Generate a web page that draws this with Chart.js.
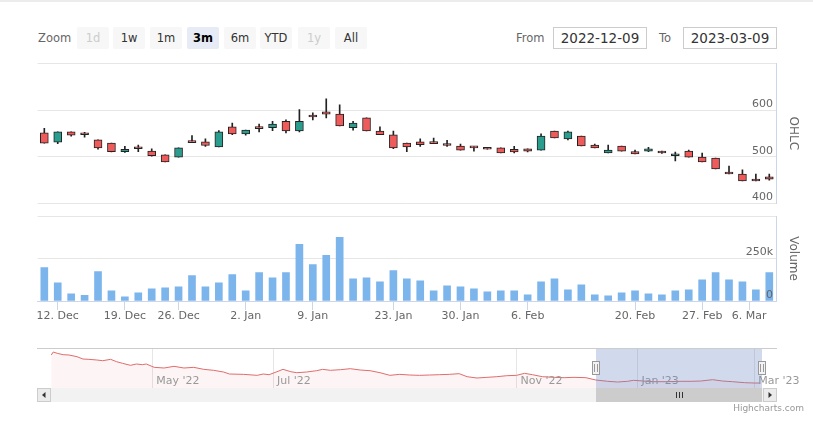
<!DOCTYPE html>
<html>
<head>
<meta charset="utf-8">
<script src="https://cdn.jsdelivr.net/npm/chart.js@4.4.1/dist/chart.umd.min.js"></script>
<style>
  body { margin: 0; background: #fff; font-family: 'DejaVu Sans', sans-serif; }
  #wrap { position: relative; width: 813px; height: 423px; overflow: hidden; }
  #wrap canvas { position: absolute; left: 0; top: 0; }
  #topline { position: absolute; left: 0; top: 0; width: 813px; height: 2px; background: #ececec; }
  .lbl { position: absolute; top: 27px; line-height: 22px; font-size: 11.5px; color: #666; }
  .btn { position: absolute; top: 27px; width: 32px; height: 22px; line-height: 22px; text-align: center;
         background: #f7f7f7; color: #333; font-size: 11.5px; border-radius: 2px; }
  .btn.off { color: #ccc; }
  .btn.on { background: #e6ebf5; color: #000; font-weight: bold; }
  .inp { position: absolute; top: 27px; width: 92px; height: 20px; line-height: 20px; border: 1px solid #ccc;
         text-align: center; font-size: 13.5px; color: #333; }
  #credit { position: absolute; right: 9px; top: 403px; font-size: 9px; color: #999; }
</style>
</head>
<body>
<div id="wrap">
  <div id="topline"></div>
  <div class="lbl" style="left:38px">Zoom</div>
  <div class="btn off" style="left:77px">1d</div>
  <div class="btn" style="left:113px">1w</div>
  <div class="btn" style="left:150px">1m</div>
  <div class="btn on" style="left:187px">3m</div>
  <div class="btn" style="left:224px">6m</div>
  <div class="btn" style="left:260px">YTD</div>
  <div class="btn off" style="left:298px">1y</div>
  <div class="btn" style="left:335px">All</div>
  <div class="lbl" style="left:516px">From</div>
  <div class="inp" style="left:553px">2022-12-09</div>
  <div class="lbl" style="left:659px">To</div>
  <div class="inp" style="left:683px">2023-03-09</div>
  <canvas id="price" width="813" height="423"></canvas>
  <canvas id="volume" width="813" height="423"></canvas>
  <canvas id="nav" width="813" height="423"></canvas>
  <div id="credit">Highcharts.com</div>
</div>
<script>
// x axis = trading day index inside the 3m window
const tickIdx = [1, 6, 10, 15, 20, 26, 31, 36, 44, 49, 52.5];
const tickLabels = ['12. Dec', '19. Dec', '26. Dec', '2. Jan', '9. Jan', '23. Jan', '30. Jan', '6. Feb', '20. Feb', '27. Feb', '6. Mar'];

const opens = [551,531,553,548,536,529,511,518,512,504, 499,531,532,521,564,549,561,562,576,555,
  586,596,591,562,583,555,547,529,532,529, 525,523,520,517,519,516,517,514,555,538,
  544,525,508,523,511,512,509,502,512,499, 497,464,463,449,457];
const highs = [561,553,553,552,536,529,522,525,517,504, 519,545,538,556,572,557,570,576,579,601,
  594,624,611,576,583,564,555,529,538,540, 535,527,522,520,519,522,517,549,555,555,
  544,527,525,523,514,520,512,510,514,508, 497,480,472,463,463];
const lows = [529,528,544,542,516,510,509,511,501,489, 499,530,522,521,547,546,553,556,551,553,
  579,583,566,557,555,547,517,511,522,528, 522,514,512,516,508,508,510,514,540,536,
  523,519,508,512,506,511,507,491,499,489, 474,463,448,448,450];
const closes = [529,553,546,547,519,511,516,517,502,489, 519,530,524,553,549,557,560,570,555,576,
  585,591,566,572,555,547,519,521,526,528, 524,514,519,516,508,510,512,544,540,553,
  523,519,514,512,506,517,508,506,499,489, 474,463,448,448,452];
const volumes = [196,107,42,34,173,60,24,48,71,77, 83,149,83,107,155,60,167,137,167,333,
  214,268,375,131,137,113,179,131,119,60, 89,83,71,54,60,60,36,113,131,65,
  95,36,30,48,60,42,36,60,65,125, 167,125,113,65,167].map(v => v * 1000);

// navigator: days from 1 May 2022, close
const navDays = [-51,-50,-48,-45,-42,-38,-35,-32,-28,-25, -21,-18,-15,-11,-8,-5,-3,1,6,11,
  16,21,26,31,36,39,46,53,56,59, 63,66,70,73,78,83,86,90,95,100,
  105,110,115,120,125,130,135,140,145,150, 155,159,164,169,174,179,184,188,192,197,
  203,208,213,219,224,230,235,240,243,248, 253,260,267,272,277,283,288,293,299,304, 307];
const navClose = [1327,1422,1381,1337,1327,1274,1201,1191,1170,1148, 1191,1116,1066,1002,1044,1023,1044,939,918,971,
  918,939,876,845,792,729,718,687,729,707, 801,876,801,770,792,833,876,845,865,896,
  855,833,770,687,718,697,687,697,707,718, 739,644,603,624,644,675,687,750,707,644,
  624,613,624,613,540,499,477,499,530,508, 487,487,499,499,508,550,508,487,456,445, 445];
const navTicks = [0, 61, 184, 245, 304];
const navTickLabels = ["May '22", "Jul '22", "Nov '22", "Jan '23", "Mar '23"];
const navRange = [224, 308];

const UP = '#2a9d8f', DOWN = '#ef5b5b', LINE = '#222';

Chart.defaults.font.family = "'DejaVu Sans', sans-serif";
Chart.defaults.font.size = 11;
Chart.defaults.color = '#666';
Chart.defaults.animation = false;
Chart.defaults.plugins.legend.display = false;
Chart.defaults.plugins.tooltip.enabled = false;

const idx = opens.map((o, i) => i);

// right hand y axis, labels inside the plot like the original
function rightAxis(min, max, step, title, fmt) {
  return {
    position: 'right', min: min, max: max,
    afterFit: s => { s.width = 37; },
    grid: { color: '#e6e6e6', drawTicks: false },
    border: { display: true, color: '#ccd6eb' },
    ticks: { mirror: true, z: 1, padding: -3, labelOffset: -6, stepSize: step, color: '#666', font: { size: 11 },
      callback: v => v === max ? '' : fmt(v) },
    title: { display: true, text: title, color: '#666', font: { size: 12 }, padding: { top: 13, bottom: 0 } }
  };
}

new Chart(document.getElementById('price'), {
  type: 'bar',
  data: {
    datasets: [{
      data: idx.map(i => ({ x: i, y: [opens[i], closes[i]] })),
      backgroundColor: idx.map(i => closes[i] >= opens[i] ? UP : DOWN),
      borderColor: LINE, borderWidth: 1, borderSkipped: false,
      barThickness: 8, minBarLength: 2, grouped: false
    }, {
      data: idx.map(i => ({ x: i, y: [lows[i], highs[i]] })),
      backgroundColor: LINE, barThickness: 1, grouped: false
    }]
  },
  options: {
    responsive: false,
    layout: { padding: { left: 37.6, top: 63.3, bottom: 219.6, right: 0 } },
    scales: {
      x: { type: 'linear', min: -0.5, max: 54.5, offset: false, display: false },
      y: rightAxis(400, 700, 100, 'OHLC', v => v)
    }
  }
});

new Chart(document.getElementById('volume'), {
  type: 'bar',
  data: {
    datasets: [{
      data: idx.map(i => ({ x: i, y: volumes[i] })),
      backgroundColor: '#7cb5ec', barThickness: 7, grouped: false
    }]
  },
  options: {
    responsive: false,
    layout: { padding: { left: 37.6, top: 216, bottom: 100, right: 0 } },
    scales: {
      x: {
        type: 'linear', min: -0.5, max: 54.5, offset: false,
        afterBuildTicks: s => { s.ticks = tickIdx.map(v => ({ value: v })); },
        afterFit: s => { s.height = 22; },
        grid: { offset: false, drawOnChartArea: false, drawTicks: true, tickLength: 9, tickColor: '#ccd6eb' },
        border: { color: '#ccd6eb' },
        ticks: { autoSkip: false, maxRotation: 0, padding: 0, color: '#666', font: { size: 11 },
          callback: (v, i) => tickLabels[i] }
      },
      y: rightAxis(0, 500000, 250000, 'Volume', v => v === 0 ? '0' : (v / 1000) + 'k')
    }
  }
});

// mask, handles, month labels and scrollbar of the navigator
const navParts = {
  id: 'navParts',
  afterDraw(chart) {
    const { ctx, chartArea: a, scales: { x } } = chart;
    const x1 = Math.round(x.getPixelForValue(navRange[0]));
    const x2 = Math.round(x.getPixelForValue(navRange[1]));
    ctx.save();
    ctx.font = "11px 'DejaVu Sans', sans-serif";
    ctx.fillStyle = '#999';
    ctx.textBaseline = 'middle';
    navTicks.forEach((t, i) => {
      ctx.fillText(navTickLabels[i], x.getPixelForValue(t) + 4, 381);
    });

    ctx.fillStyle = 'rgba(102,133,194,0.3)';
    ctx.fillRect(x1, a.top, x2 - x1, a.bottom - a.top);
    ctx.strokeStyle = '#ccc';
    ctx.lineWidth = 1;
    ctx.beginPath();
    ctx.moveTo(a.left, a.top + 0.5);
    ctx.lineTo(a.right, a.top + 0.5);
    ctx.stroke();

    // scrollbar
    const sy = a.bottom, sh = 14;
    ctx.fillStyle = '#f2f2f2';
    ctx.fillRect(a.left, sy, a.right - a.left, sh);
    ctx.fillStyle = '#ccc';
    ctx.fillRect(x1, sy, x2 - x1, sh);
    ctx.strokeStyle = '#333';
    const mid = Math.round((x1 + x2) / 2);
    [-3, 0, 3].forEach(d => {
      ctx.beginPath();
      ctx.moveTo(mid + d + 0.5, sy + 4);
      ctx.lineTo(mid + d + 0.5, sy + 10);
      ctx.stroke();
    });
    [[a.left, -1], [a.right - sh, 1]].forEach(([bx, dir]) => {
      ctx.fillStyle = '#ebebeb';
      ctx.fillRect(bx, sy, sh, sh);
      ctx.strokeStyle = '#ccc';
      ctx.strokeRect(bx + 0.5, sy + 0.5, sh - 1, sh - 1);
      ctx.fillStyle = '#333';
      const cx = bx + sh / 2, cy = sy + sh / 2;
      ctx.beginPath();
      ctx.moveTo(cx + 2 * dir, cy);
      ctx.lineTo(cx - 1.5 * dir, cy - 3);
      ctx.lineTo(cx - 1.5 * dir, cy + 3);
      ctx.closePath();
      ctx.fill();
    });

    // handles
    [x1, x2].forEach(hx => {
      ctx.fillStyle = '#f2f2f2';
      ctx.fillRect(hx - 4, 361, 8, 14);
      ctx.strokeStyle = '#999';
      ctx.strokeRect(hx - 3.5, 361.5, 7, 13);
      ctx.beginPath();
      ctx.moveTo(hx - 1.5, 364); ctx.lineTo(hx - 1.5, 372);
      ctx.moveTo(hx + 1.5, 364); ctx.lineTo(hx + 1.5, 372);
      ctx.stroke();
    });
    ctx.restore();
  }
};

new Chart(document.getElementById('nav'), {
  type: 'line',
  data: {
    datasets: [{
      data: navDays.map((d, i) => ({ x: d, y: navClose[i] })),
      borderColor: '#e06c6c', borderWidth: 1, pointRadius: 0,
      fill: 'start', backgroundColor: 'rgba(224,92,92,0.06)'
    }]
  },
  options: {
    responsive: false,
    layout: { padding: { left: 37, top: 348, bottom: 35, right: 36 } },
    scales: {
      x: {
        type: 'linear', min: -58.2, max: 315.5,
        afterBuildTicks: s => { s.ticks = navTicks.map(v => ({ value: v })); },
        afterFit: s => { s.height = 0; },
        grid: { color: '#e6e6e6', drawTicks: false },
        border: { display: false },
        ticks: { display: false }
      },
      y: { display: false, min: 288, max: 1548 }
    }
  },
  plugins: [navParts]
});
</script>
</body>
</html>
